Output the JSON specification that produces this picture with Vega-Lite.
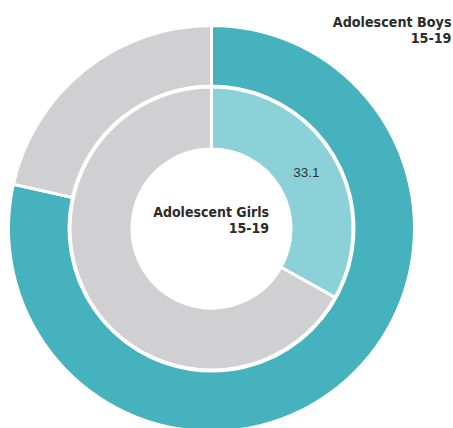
{
  "$schema": "https://vega.github.io/schema/vega-lite/v6.json",
  "width": 423,
  "height": 457,
  "autosize": "none",
  "padding": {"left": 0, "top": 0, "right": 30, "bottom": 0},
  "background": "white",
  "config": {"view": {"stroke": null}},
  "data": {
    "values": [
      {"group": "Adolescent Boys", "category": "Yes", "order": 1, "value": 78.5},
      {"group": "Adolescent Boys", "category": "No", "order": 2, "value": 21.5},
      {"group": "Adolescent Girls", "category": "Yes", "order": 1, "value": 33.1},
      {"group": "Adolescent Girls", "category": "No", "order": 2, "value": 66.9}
    ]
  },
  "resolve": {"scale": {"color": "independent"}},
  "layer": [
    {
      "transform": [{"filter": "datum.group === 'Adolescent Boys'"}],
      "mark": {"type": "arc", "outerRadius": 203, "innerRadius": 142.5, "stroke": "white", "strokeWidth": 3},
      "encoding": {
        "theta": {"field": "value", "type": "quantitative", "stack": true},
        "order": {"field": "order", "type": "quantitative"},
        "color": {"field": "category", "type": "nominal", "scale": {"domain": ["Yes", "No"], "range": ["#45B2BE", "#D0CFD1"]}, "legend": null}
      }
    },
    {
      "transform": [{"filter": "datum.group === 'Adolescent Girls'"}],
      "mark": {"type": "arc", "outerRadius": 141.5, "innerRadius": 79.5, "stroke": "white", "strokeWidth": 3},
      "encoding": {
        "theta": {"field": "value", "type": "quantitative", "stack": true},
        "order": {"field": "order", "type": "quantitative"},
        "color": {"field": "category", "type": "nominal", "scale": {"domain": ["Yes", "No"], "range": ["#8DD1D8", "#D0CFD1"]}, "legend": null}
      }
    },
    {
      "transform": [{"filter": "datum.group === 'Adolescent Girls'"}],
      "mark": {"type": "text", "radius": 110, "fontSize": 13.5, "font": "Liberation Sans", "color": "#333333", "align": "center", "baseline": "middle"},
      "encoding": {
        "theta": {"field": "value", "type": "quantitative", "stack": true},
        "order": {"field": "order", "type": "quantitative"},
        "text": {"condition": {"test": "datum.category === 'Yes'", "field": "value", "type": "quantitative", "format": ".1f"}, "value": ""}
      }
    },
    {
      "data": {"values": [{"label": ["Adolescent Boys", "15-19"]}]},
      "mark": {"type": "text", "align": "right", "baseline": "alphabetic", "dx": 240, "dy": -202, "lineHeight": 16, "font": "DejaVu Sans Condensed", "fontWeight": "bold", "fontSize": 14.2, "color": "#2b2b2b"},
      "encoding": {"text": {"field": "label"}}
    },
    {
      "data": {"values": [{"label": ["Adolescent Girls", "15-19"]}]},
      "mark": {"type": "text", "align": "right", "baseline": "alphabetic", "dx": 57.5, "dy": -12, "lineHeight": 16, "font": "DejaVu Sans Condensed", "fontWeight": "bold", "fontSize": 14, "color": "#2b2b2b"},
      "encoding": {"text": {"field": "label"}}
    }
  ]
}
